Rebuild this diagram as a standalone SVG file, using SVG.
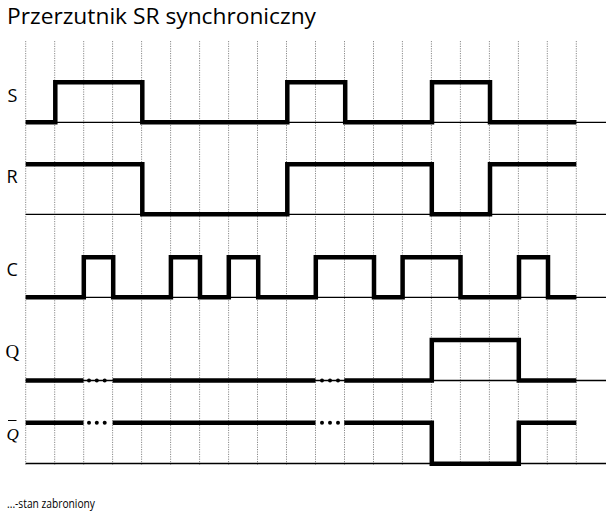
<svg xmlns="http://www.w3.org/2000/svg" width="611" height="513" viewBox="0 0 611 513">
<style>
.grid{stroke:#8a8a8a;stroke-width:1;stroke-dasharray:1.2 1.2;fill:none}
.base{stroke:#000;stroke-width:1.3;fill:none}
.sig{stroke:#000;stroke-width:4.5;fill:none;stroke-linejoin:miter;stroke-linecap:butt}
.lbl{font-family:"Open Sans","Liberation Sans",sans-serif;font-size:18px;fill:#000}
.ser{font-family:"Liberation Serif","DejaVu Serif",serif;fill:#000}
</style>
<rect width="611" height="513" fill="#fff"/>
<text x="7" y="23.8" font-family="Open Sans, Liberation Sans, sans-serif" font-size="22" textLength="309" lengthAdjust="spacingAndGlyphs">Przerzutnik SR synchroniczny</text>
<g id="grid">
<line class="grid" x1="25.7" y1="41" x2="25.7" y2="465"/>
<line class="grid" x1="54.7" y1="41" x2="54.7" y2="465"/>
<line class="grid" x1="83.7" y1="41" x2="83.7" y2="465"/>
<line class="grid" x1="112.6" y1="41" x2="112.6" y2="465"/>
<line class="grid" x1="141.6" y1="41" x2="141.6" y2="465"/>
<line class="grid" x1="170.6" y1="41" x2="170.6" y2="465"/>
<line class="grid" x1="199.6" y1="41" x2="199.6" y2="465"/>
<line class="grid" x1="228.6" y1="41" x2="228.6" y2="465"/>
<line class="grid" x1="257.5" y1="41" x2="257.5" y2="465"/>
<line class="grid" x1="286.5" y1="41" x2="286.5" y2="465"/>
<line class="grid" x1="315.5" y1="41" x2="315.5" y2="465"/>
<line class="grid" x1="344.5" y1="41" x2="344.5" y2="465"/>
<line class="grid" x1="373.5" y1="41" x2="373.5" y2="465"/>
<line class="grid" x1="402.4" y1="41" x2="402.4" y2="465"/>
<line class="grid" x1="431.4" y1="41" x2="431.4" y2="465"/>
<line class="grid" x1="460.4" y1="41" x2="460.4" y2="465"/>
<line class="grid" x1="489.4" y1="41" x2="489.4" y2="465"/>
<line class="grid" x1="518.4" y1="41" x2="518.4" y2="465"/>
<line class="grid" x1="547.3" y1="41" x2="547.3" y2="465"/>
<line class="grid" x1="576.3" y1="41" x2="576.3" y2="465"/>
</g>
<g id="baselines">
<line class="base" x1="25.7" y1="122.3" x2="606" y2="122.3"/>
<line class="base" x1="25.7" y1="214.3" x2="606" y2="214.3"/>
<line class="base" x1="25.7" y1="297.3" x2="606" y2="297.3"/>
<line class="base" x1="25.7" y1="380.5" x2="606" y2="380.5"/>
<line class="base" x1="25.7" y1="463.5" x2="606" y2="463.5"/>
</g>
<g id="S">
<text class="lbl" x="7.5" y="102">S</text>
<path class="sig" d="M25.7,122.3 H55.3 V82.3 H142.3 V122.3 H287.3 V82.3 H345.2 V122.3 H432 V82.3 H490 V122.3 H576.3"/>
</g>
<g id="R">
<text class="lbl" x="6.5" y="182.5">R</text>
<path class="sig" d="M25.7,164.3 H142.3 V214.3 H287.3 V164.3 H431.8 V214.3 H490 V164.3 H576.3"/>
</g>
<g id="C">
<text class="lbl" x="6.5" y="276">C</text>
<path class="sig" d="M25.7,297.3 H83.8 V257.3 H113.2 V297.3 H170.9 V257.3 H200 V297.3 H228.8 V257.3 H258.2 V297.3 H315.8 V257.3 H374 V297.3 H402.6 V257.3 H460.5 V297.3 H519 V257.3 H548 V297.3 H576.3"/>
</g>
<g id="Q">
<text class="ser" x="5.5" y="358" font-size="19">Q</text>
<path class="sig" d="M25.7,380.5 H83.5 M112.7,380.5 H315.5 M344.3,380.5 H431.8 V340 H518.8 V380.5 H576.3"/>
<circle cx="89" cy="380.5" r="2"/><circle cx="96.8" cy="380.5" r="2"/><circle cx="104.7" cy="380.5" r="2"/>
<circle cx="322" cy="380.5" r="2"/><circle cx="330" cy="380.5" r="2"/><circle cx="338" cy="380.5" r="2"/>
</g>
<g id="Qbar">
<text class="ser" x="6.5" y="440" font-size="17" font-style="italic">Q</text>
<line x1="8" y1="420.5" x2="16.5" y2="420.5" stroke="#000" stroke-width="1"/>
<path class="sig" d="M25.7,422.7 H83.5 M112.7,422.7 H315.5 M344.3,422.7 H431.8 V463.7 H518.8 V422.7 H576.3"/>
<circle cx="89" cy="422.7" r="2"/><circle cx="96.8" cy="422.7" r="2"/><circle cx="104.7" cy="422.7" r="2"/>
<circle cx="322" cy="422.7" r="2"/><circle cx="330" cy="422.7" r="2"/><circle cx="338" cy="422.7" r="2"/>
</g>
<text x="7" y="508" font-family="Open Sans, Liberation Sans, sans-serif" font-size="12" textLength="88" lengthAdjust="spacingAndGlyphs">...-stan zabroniony</text>
</svg>
